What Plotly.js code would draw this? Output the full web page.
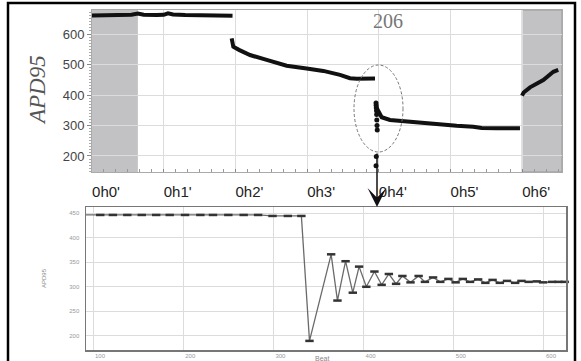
<!DOCTYPE html>
<html>
<head>
<meta charset="utf-8">
<script src="https://cdn.plot.ly/plotly-3.0.1.min.js"></script>
<style>html,body{margin:0;padding:0;background:#fff;}#chart{width:581px;height:361px;}</style>
</head>
<body>
<div id="chart"></div>
<script>
// ---- Top panel: APD95 over time (minutes) ----
var topTickVals = [0, 1, 2, 3, 4, 5, 6];
var topTickText = ["0h0'", "0h1'", "0h2'", "0h3'", "0h4'", "0h5'", "0h6'"];
var topYTicks = [200, 300, 400, 500, 600];

var seg1T = [0, 0.2, 0.4, 0.55, 0.64, 0.72, 0.9, 1.0, 1.06, 1.13, 1.3, 1.5, 1.7, 1.85, 1.96];
var seg1V = [661, 662, 662, 663, 667, 663, 662, 663, 668, 664, 662, 661, 661, 660, 660];

var seg2T = [1.948, 1.958, 1.971, 2.05, 2.204, 2.436, 2.715, 2.994, 3.226, 3.459, 3.598, 3.692, 3.947];
var seg2V = [586, 572, 558, 548, 531, 515, 496, 487, 479, 466, 455, 453, 454];

var clusterT = [3.961, 3.963, 3.965, 3.968, 3.97, 3.972, 3.975, 3.978, 3.965, 3.961];
var clusterV = [374, 366, 358, 348, 336, 318, 300, 285, 198, 168];

var seg3T = [3.965, 4.02, 4.04, 4.156, 4.389, 4.621, 4.854, 5.086, 5.318, 5.434, 5.643, 5.969];
var seg3V = [360, 335, 327, 318, 313, 307, 302, 299, 296, 292, 291, 291];

var seg4T = [5.997, 6.02, 6.109, 6.294, 6.434, 6.503];
var seg4V = [398, 408, 425, 449, 476, 482];

var leftBand = [0, 0.64];
var rightBand = [6.0, 6.555];

// ---- Bottom panel: zoom around the transition ----
var botX = [92, 108, 122, 138, 154, 170, 185, 202, 219, 233, 250, 267, 283, 299, 316, 331,
            340,
            364, 371, 380, 388, 395, 403, 412, 420, 428, 436, 443, 452, 461, 468, 477, 485,
            494, 502, 510, 518, 527, 535, 543, 551, 559, 568, 575, 583, 592, 599, 609, 616, 623];
var botY = [446, 446, 446, 446, 446, 446, 446, 446, 446, 446, 446, 446, 446, 444, 444, 444,
            190,
            366, 272, 352, 288, 341, 300, 331, 304, 326, 306, 322, 309, 322, 310, 319, 310,
            316, 309, 316, 310, 315, 308, 314, 308, 312, 308, 312, 310, 311, 309, 310, 310, 310];
var botXTicks = [100, 200, 300, 400, 500, 600];
var botYTicks = [200, 250, 300, 350, 400, 450];

var W = 581, H = 361;
function px(x){ return x / W; }
function py(y){ return 1 - y / H; }

var traces = [
  {x: seg1T, y: seg1V, mode: 'lines', line: {color: '#111', width: 4}, xaxis: 'x', yaxis: 'y'},
  {x: seg2T, y: seg2V, mode: 'lines', line: {color: '#111', width: 4}, xaxis: 'x', yaxis: 'y'},
  {x: clusterT, y: clusterV, mode: 'markers', marker: {color: '#111', size: 5}, xaxis: 'x', yaxis: 'y'},
  {x: seg3T, y: seg3V, mode: 'lines', line: {color: '#111', width: 4}, xaxis: 'x', yaxis: 'y'},
  {x: seg4T, y: seg4V, mode: 'lines', line: {color: '#111', width: 4}, xaxis: 'x', yaxis: 'y'},
  {x: botX, y: botY, mode: 'lines+markers', line: {color: '#6a6a6a', width: 1.3},
   marker: {symbol: 'line-ew', size: 6, line: {width: 2.5, color: '#333'}},
   xaxis: 'x2', yaxis: 'y2', cliponaxis: false}
];

var layout = {
  width: W, height: H,
  margin: {l: 0, r: 0, t: 0, b: 0},
  paper_bgcolor: '#fff', plot_bgcolor: '#fff',
  showlegend: false,
  xaxis: {
    domain: [px(92), px(562)], range: [0, 6.555], anchor: 'y',
    tickmode: 'array', tickvals: topTickVals, ticktext: topTickText,
    ticks: 'inside', ticklen: 3, tickcolor: '#888',
    minor: {tick0: 0, dtick: 1/6, ticks: 'inside', ticklen: 3, tickcolor: '#999', showgrid: false},
    showgrid: true, gridcolor: '#dcdcdc', gridwidth: 1,
    showline: true, linecolor: '#aaa', linewidth: 1, mirror: true, zeroline: false,
    tickfont: {family: 'Liberation Sans, Arial, sans-serif', size: 15, color: '#222'},
    ticklabelshift: 14, ticklabelstandoff: 6
  },
  yaxis: {
    domain: [py(172), py(10)], range: [147.5, 678.7], anchor: 'x',
    tickmode: 'array', tickvals: topYTicks,
    ticks: 'outside', ticklen: 4, tickcolor: '#888',
    minor: {dtick: 10, ticks: 'outside', ticklen: 2, tickcolor: '#aaa', showgrid: false},
    showgrid: true, gridcolor: '#dcdcdc', gridwidth: 1,
    showline: true, linecolor: '#aaa', linewidth: 1, mirror: true, zeroline: false,
    tickfont: {family: 'Liberation Sans, Arial, sans-serif', size: 13, color: '#444'}
  },
  xaxis2: {
    domain: [px(86), px(566)], range: [92.2, 624.4], anchor: 'y2',
    tickmode: 'array', tickvals: botXTicks,
    ticks: '', showgrid: true, gridcolor: '#dcdcdc',
    showline: true, linecolor: '#777', linewidth: 1.5, mirror: true, zeroline: false,
    tickfont: {family: 'Liberation Sans, Arial, sans-serif', size: 6, color: '#999'},
    ticklabelshift: 7, ticklabelstandoff: -1
  },
  yaxis2: {
    domain: [py(350), py(207)], range: [171.5, 462.2], anchor: 'x2',
    tickmode: 'array', tickvals: botYTicks,
    ticks: '', showgrid: true, gridcolor: '#dcdcdc',
    showline: true, linecolor: '#777', linewidth: 1.5, mirror: true, zeroline: false,
    tickfont: {family: 'Liberation Sans, Arial, sans-serif', size: 6, color: '#999'},
    ticklabelstandoff: 4
  },
  shapes: [
    {type: 'rect', xref: 'x', yref: 'paper', x0: leftBand[0], x1: leftBand[1], y0: py(172), y1: py(10),
     fillcolor: '#c2c2c5', line: {width: 0}, layer: 'below'},
    {type: 'rect', xref: 'x', yref: 'paper', x0: rightBand[0], x1: rightBand[1], y0: py(172), y1: py(10),
     fillcolor: '#c2c2c5', line: {width: 1, color: '#999'}, layer: 'below'},
    {type: 'circle', xref: 'paper', yref: 'paper', x0: px(354), x1: px(403), y0: py(152), y1: py(65),
     line: {color: '#777', width: 1, dash: '3px,2px'}},
    {type: 'rect', xref: 'paper', yref: 'paper', x0: px(8), x1: px(575), y0: -0.1, y1: py(3),
     line: {color: '#000', width: 2.5}}
  ],
  annotations: [
    {text: '206', xref: 'paper', yref: 'paper', x: px(388), y: py(21), xanchor: 'center', yanchor: 'middle',
     showarrow: false, font: {family: 'Liberation Serif, Times New Roman, serif', size: 20, color: '#777'}},
    {text: '<i>APD95</i>', xref: 'paper', yref: 'paper', x: px(37), y: py(90), xanchor: 'center', yanchor: 'middle',
     showarrow: false, textangle: -90,
     font: {family: 'Liberation Serif, Times New Roman, serif', size: 23, color: '#555'}},
    {text: 'APD95', xref: 'paper', yref: 'paper', x: px(44), y: py(278), xanchor: 'center', yanchor: 'middle',
     showarrow: false, textangle: -90, font: {family: 'Liberation Sans, Arial, sans-serif', size: 6, color: '#888'}},
    {text: 'Beat', xref: 'paper', yref: 'paper', x: px(322), y: py(358), xanchor: 'center', yanchor: 'middle',
     showarrow: false, font: {family: 'Liberation Sans, Arial, sans-serif', size: 7, color: '#888'}},
    {text: '', xref: 'paper', yref: 'paper', x: px(377), y: py(207), showarrow: true,
     ax: 0, ay: -55, arrowhead: 3, arrowsize: 2.1, arrowwidth: 1.5, arrowcolor: '#111', standoff: 0}
  ]
};

Plotly.newPlot('chart', traces, layout, {staticPlot: true, displayModeBar: false});
</script>
</body>
</html>
